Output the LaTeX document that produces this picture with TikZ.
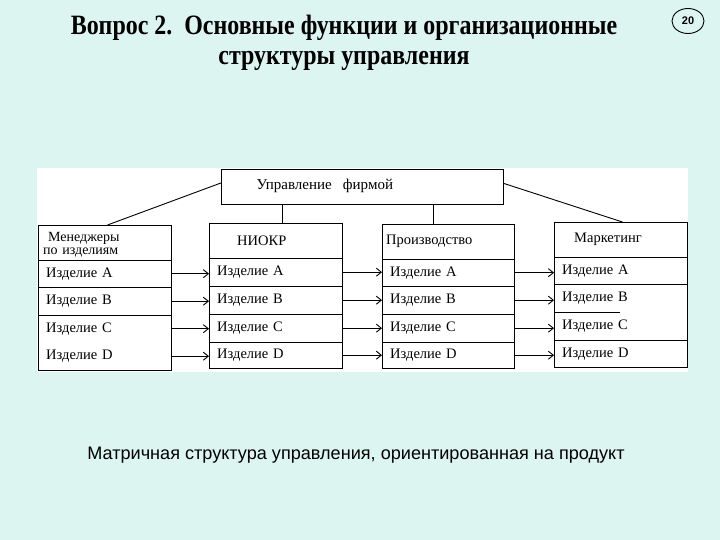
\documentclass[tikz,border=0pt]{standalone}
\usepackage{fontspec}
\setmainfont{Liberation Serif}
\newfontfamily\capfont{Liberation Sans}
\usetikzlibrary{arrows.meta,shapes.geometric}
\definecolor{slidebg}{RGB}{221,245,241}
\begin{document}
\begin{tikzpicture}[x=1pt,y=-1pt,
  ln/.style={line width=0.9pt},
  box/.style={draw,ln,anchor=north west,inner sep=0pt},
  row/.style={anchor=north west,inner xsep=8pt,inner ysep=0pt,align=left,
    font=\fontsize{14.5}{15}\selectfont},
  arr/.style={ln,-{Straight Barb[length=5pt,width=8pt,line width=0.9pt]}},
  ]
\useasboundingbox (0,0) rectangle (720,540);
\fill[slidebg] (0,0) rectangle (720,540);
% title
\node[font=\fontsize{28}{30}\bfseries\selectfont,align=center] (title) at (344,43)
  {\scalebox{0.855}[1]{Вопрос 2.\ \ Основные функции и организационные}\\ \scalebox{0.855}[1]{структуры управления}};
\node[draw,ellipse,ln,minimum width=32pt,minimum height=25pt,inner sep=0pt,
  font=\capfont\bfseries\fontsize{11}{12}\selectfont] (num) at (688,21) {20};
% panel
\fill[white] (37,168) rectangle (688,372);
% top box
\node[box,minimum width=282pt,minimum height=35pt] (T) at (221,169) {};
\node[anchor=west,font=\fontsize{15}{16}\selectfont] (Tt) at (253,186) {Управление\ \ \ фирмой};
% boxes
\node[box,minimum width=133pt,minimum height=145pt] (L) at (38,225) {};
\node[box,minimum width=133pt,minimum height=145pt] (N) at (209,223) {};
\node[box,minimum width=132pt,minimum height=144pt] (P) at (382,224) {};
\node[box,minimum width=133pt,minimum height=145pt] (M) at (554,222) {};
% left rows
\node[row,text width=117pt,minimum height=35pt,font=\fontsize{14}{13.5}\selectfont] (Lh) at (38,227) {\hspace*{2pt}Менеджеры\\\hspace*{-3pt}по изделиям};
\node[row,text width=117pt,minimum height=27pt] (La) at (38,260) {Изделие A};
\node[row,text width=117pt,minimum height=28pt] (Lb) at (38,287) {Изделие B};
\node[row,text width=117pt,minimum height=27pt] (Lc) at (38,315) {Изделие C};
\node[row,text width=117pt,minimum height=28pt] (Ld) at (38,342) {Изделие D};
% NIOKR rows
\node[row,text width=117pt,minimum height=35pt] (Nh) at (209,223) {\hspace*{20pt}НИОКР};
\node[row,text width=117pt,minimum height=28pt] (Na) at (209,258) {Изделие A};
\node[row,text width=117pt,minimum height=28pt] (Nb) at (209,286) {Изделие B};
\node[row,text width=117pt,minimum height=28pt] (Nc) at (209,314) {Изделие C};
\node[row,text width=117pt,minimum height=26pt] (Nd) at (209,342) {Изделие D};
% production rows
\node[row,text width=116pt,minimum height=35pt] (Ph) at (382,224) {\hspace*{-4pt}Производство};
\node[row,text width=116pt,minimum height=27pt] (Pa) at (382,259) {Изделие A};
\node[row,text width=116pt,minimum height=28pt] (Pb) at (382,286) {Изделие B};
\node[row,text width=116pt,minimum height=28pt] (Pc) at (382,314) {Изделие C};
\node[row,text width=116pt,minimum height=26pt] (Pd) at (382,342) {Изделие D};
% marketing rows
\node[row,text width=117pt,minimum height=35pt] (Mh) at (554,222) {\hspace*{12pt}Маркетинг};
\node[row,text width=117pt,minimum height=27pt] (Ma) at (554,257) {Изделие A};
\node[row,text width=117pt,minimum height=28pt] (Mb) at (554,284) {Изделие B};
\node[row,text width=117pt,minimum height=28pt] (Mc) at (554,312) {Изделие C};
\node[row,text width=117pt,minimum height=27pt] (Md) at (554,340) {Изделие D};
% dividers
\foreach \r in {La,Lb,Lc,Na,Nb,Nc,Nd,Pa,Pb,Pc,Pd,Ma,Mb,Md}
  \draw[ln] (\r.north west) -- (\r.north east);
\draw[ln] (Mc.north west) -- ([xshift=66pt]Mc.north west);
% hierarchy lines
\draw[ln] ([xshift=6.5pt]N.north) -- ([xshift=6.5pt]N.north |- T.south);
\draw[ln] ([xshift=-15pt]P.north) -- ([xshift=-15pt]P.north |- T.south);
\draw[ln] ([yshift=4pt]T.west) -- ([xshift=2.5pt]L.north);
\draw[ln] ([yshift=3.5pt]T.east) -- ([xshift=1.5pt]M.north);
% arrows
\foreach \s/\t in {La/N,Lb/N,Lc/N,Ld/N,Na/P,Nb/P,Nc/P,Nd/P,Pa/M,Pb/M,Pc/M,Pd/M}
  \draw[arr] (\s.east) -- (\s.east -| \t.west);
% caption
\node[font=\capfont\fontsize{18.1}{20}\selectfont] (cap) at (356,455)
  {Матричная структура управления, ориентированная на продукт};
\end{tikzpicture}
\end{document}
